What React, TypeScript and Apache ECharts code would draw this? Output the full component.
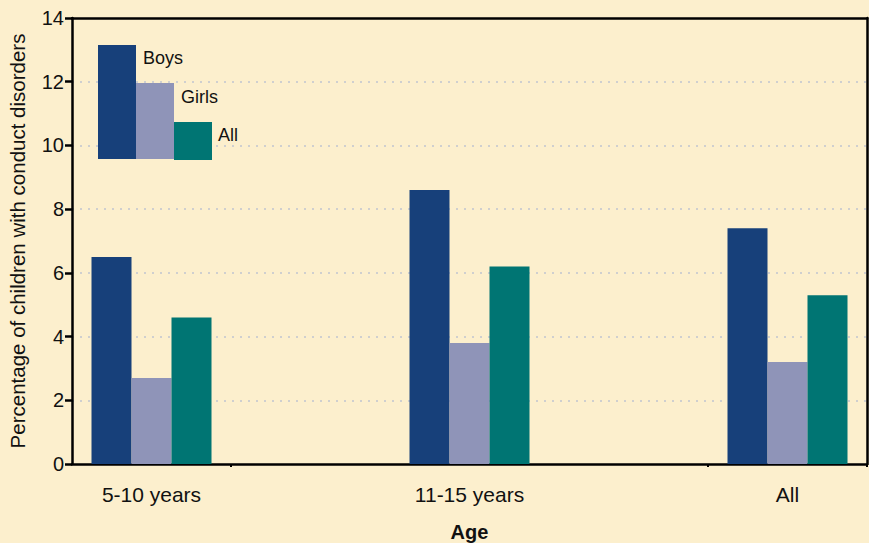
import React, { useEffect, useRef } from "react";
import * as echarts from "echarts";

const categories = ["5-10 years", "11-15 years", "All"];
const boys = [6.5, 8.6, 7.4];
const girls = [2.7, 3.8, 3.2];
const allChildren = [4.6, 6.2, 5.3];
const yTicks = [0, 2, 4, 6, 8, 10, 12, 14];

const FONT = "'Liberation Sans', Arial, sans-serif";
const COLORS = { boys: "#17407A", girls: "#8F94B8", all: "#007573" };

// each category sits in every other band, with blank bands between them
const slots = categories.flatMap((c, i) => (i < categories.length - 1 ? [c, ""] : [c]));
const spread = (arr: number[]) =>
  arr.flatMap((v, i) => (i < arr.length - 1 ? [v, null] : [v]));

export default function App() {
  const ref = useRef<HTMLDivElement>(null);
  useEffect(() => {
    if (!ref.current) return;
    const chart = echarts.init(ref.current, null, { renderer: "svg" });
    const frameLine = { show: true, onZero: false, lineStyle: { color: "#000", width: 2.5 } };
    chart.setOption({
      animation: false,
      backgroundColor: "#FCEFCD",
      textStyle: { fontFamily: FONT },
      grid: { left: 72, right: 2, top: 18, bottom: 79, containLabel: false, outerBoundsMode: "none" },
      xAxis: [
        {
          type: "category",
          data: slots,
          boundaryGap: true,
          name: "Age",
          nameLocation: "middle",
          nameGap: 58,
          nameTextStyle: { fontSize: 20, fontWeight: "bold", color: "#111", fontFamily: FONT },
          axisLine: frameLine,
          axisTick: {
            show: true,
            interval: (index: number) => index === 1 || index === 4,
            length: 3,
            lineStyle: { color: "#000", width: 2 },
          },
          axisLabel: { interval: 0, fontSize: 21, color: "#111", margin: 20, fontFamily: FONT },
          splitLine: { show: false },
        },
        {
          type: "category",
          data: slots,
          position: "top",
          axisLine: frameLine,
          axisTick: { show: false },
          axisLabel: { show: false },
          splitLine: { show: false },
        },
      ],
      yAxis: [
        {
          type: "value",
          min: 0,
          max: 14,
          interval: 2,
          name: "Percentage of children with conduct disorders",
          nameLocation: "middle",
          nameGap: 44,
          nameTextStyle: { fontSize: 20.5, color: "#111", fontFamily: FONT },
          axisLine: frameLine,
          axisTick: { show: true, length: 7, lineStyle: { color: "#000", width: 2.5 } },
          axisLabel: {
            fontSize: 20,
            color: "#111",
            margin: 8,
            fontFamily: FONT,
            formatter: (v: number) => (yTicks.includes(v) ? String(v) : ""),
          },
          splitLine: {
            show: true,
            showMinLine: false,
            showMaxLine: false,
            lineStyle: { color: "#CFCFCF", width: 2, type: [2, 6] },
          },
        },
        {
          type: "value",
          min: 0,
          max: 14,
          interval: 2,
          position: "right",
          axisLine: frameLine,
          axisTick: { show: false },
          axisLabel: { show: false },
          splitLine: { show: false },
        },
      ],
      series: [
        { name: "Boys", type: "bar", data: spread(boys), barWidth: 40, barGap: "0%", itemStyle: { color: COLORS.boys } },
        { name: "Girls", type: "bar", data: spread(girls), barWidth: 40, barGap: "0%", itemStyle: { color: COLORS.girls } },
        { name: "All", type: "bar", data: spread(allChildren), barWidth: 40, barGap: "0%", itemStyle: { color: COLORS.all } },
      ],
      graphic: [
        { type: "rect", z: 100, shape: { x: 98, y: 45, width: 38, height: 114 }, style: { fill: COLORS.boys } },
        { type: "rect", z: 100, shape: { x: 136, y: 83, width: 38, height: 76 }, style: { fill: COLORS.girls } },
        { type: "rect", z: 100, shape: { x: 174, y: 122, width: 38, height: 38 }, style: { fill: COLORS.all } },
        { type: "text", z: 100, x: 143, y: 58, style: { text: "Boys", fontSize: 18, fill: "#111", fontFamily: FONT, verticalAlign: "middle" } },
        { type: "text", z: 100, x: 181, y: 97, style: { text: "Girls", fontSize: 18, fill: "#111", fontFamily: FONT, verticalAlign: "middle" } },
        { type: "text", z: 100, x: 218, y: 135, style: { text: "All", fontSize: 18, fill: "#111", fontFamily: FONT, verticalAlign: "middle" } },
      ],
    });
    return () => chart.dispose();
  }, []);
  return (
    <div
      ref={ref}
      style={{ position: "fixed", left: 0, top: 0, width: 869, height: 543 }}
    />
  );
}
